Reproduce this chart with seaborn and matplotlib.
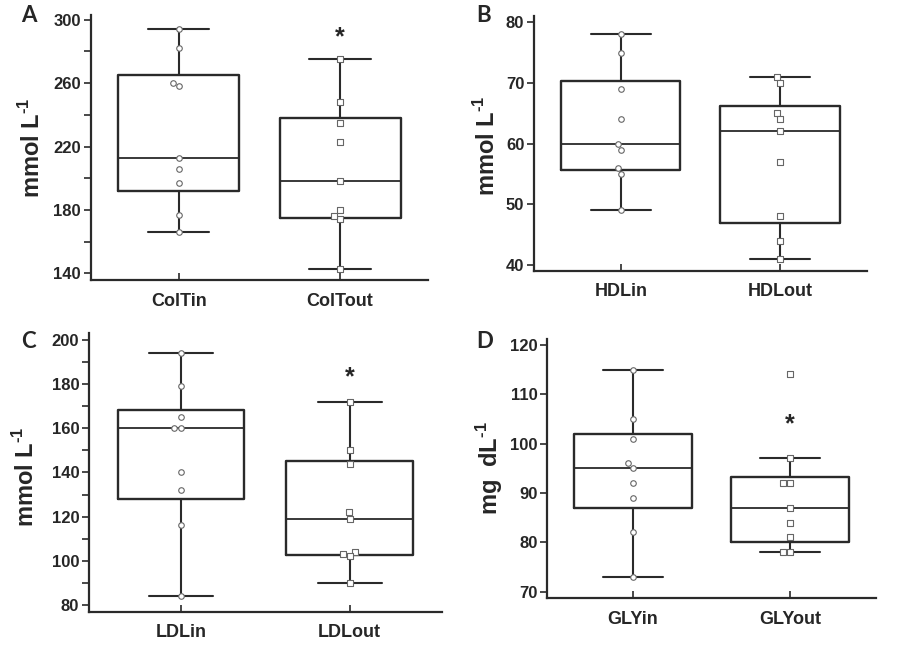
import matplotlib
matplotlib.use("Agg")
import matplotlib.pyplot as plt
import seaborn as sns
import pandas as pd

# ---- data ----
colt_labels = ["ColTin", "ColTout"]
colt_in = [294, 282, 260, 258, 213, 206, 197, 177, 166]
colt_out = [275, 248, 235, 223, 198, 180, 174, 176, 143]
colt_q1 = [192, 175]
colt_med = [213, 198]
colt_q3 = [265, 238]
colt_lo = [166, 143]
colt_hi = [294, 275]
colt_ticks = [140, 180, 220, 260, 300]

hdl_labels = ["HDLin", "HDLout"]
hdl_in = [78, 75, 69, 64, 60, 59, 56, 55, 49]
hdl_out = [71, 70, 65, 64, 62, 57, 48, 44, 41]
hdl_q1 = [55.7, 47]
hdl_med = [60, 62]
hdl_q3 = [70.4, 66.2]
hdl_lo = [49, 41]
hdl_hi = [78, 71]
hdl_ticks = [40, 50, 60, 70, 80]

ldl_labels = ["LDLin", "LDLout"]
ldl_in = [194, 179, 165, 160, 160, 140, 132, 116, 84]
ldl_out = [172, 150, 144, 122, 119, 104, 103, 102, 90]
ldl_q1 = [127.8, 102.5]
ldl_med = [160, 119]
ldl_q3 = [168.3, 145.4]
ldl_lo = [84, 90]
ldl_hi = [194, 172]
ldl_ticks = [80, 100, 120, 140, 160, 180, 200]

gly_labels = ["GLYin", "GLYout"]
gly_in = [115, 105, 101, 96, 95, 92, 89, 82, 73]
gly_out = [114, 97, 92, 92, 87, 84, 81, 78, 78]
gly_q1 = [87, 80.1]
gly_med = [95, 87]
gly_q3 = [102, 93.2]
gly_lo = [73, 78]
gly_hi = [115, 97]
gly_ticks = [70, 80, 90, 100, 110, 120]

sns.set_style("ticks")
plt.rcParams["font.family"] = ["Liberation Sans", "DejaVu Sans"]
plt.rcParams["font.weight"] = "bold"
plt.rcParams["mathtext.fontset"] = "custom"
plt.rcParams["mathtext.rm"] = "Liberation Sans:bold"
plt.rcParams["mathtext.bf"] = "Liberation Sans:bold"

LINE = "#2a2a2a"


def draw_panel(ax, labels, v_in, v_out, q1, med, q3, lo, hi, ticks, minor=False, star=None):
    df_in = pd.DataFrame({"group": labels[0], "value": v_in})
    df_out = pd.DataFrame({"group": labels[1], "value": v_out})
    kw = dict(x="group", y="value", order=labels, ax=ax, size=4.0, color="white",
              edgecolor="#666666", linewidth=0.8, zorder=4)
    sns.swarmplot(data=df_in, marker="o", **kw)
    sns.swarmplot(data=df_out, marker="s", **kw)

    stats = [dict(q1=q1[i], med=med[i], q3=q3[i], whislo=lo[i], whishi=hi[i], fliers=[])
             for i in range(2)]
    ax.bxp(stats, positions=[0, 1], widths=0.75, capwidths=0.38, showfliers=False,
           manage_ticks=False,
           boxprops=dict(color=LINE, linewidth=1.7),
           whiskerprops=dict(color=LINE, linewidth=1.5),
           capprops=dict(color=LINE, linewidth=1.5),
           medianprops=dict(color=LINE, linewidth=1.3))

    step = ticks[1] - ticks[0]
    pad = step * len(ticks) / 40.0
    ax.set_xlim(-0.545, 1.545)
    ax.set_xticks([0, 1])
    ax.set_xticklabels(labels)
    ax.set_yticks(ticks)
    if minor:
        ax.set_yticks([t + step / 2 for t in ticks[:-1]], minor=True)
    ax.set_xlabel("")
    ax.set_ylabel("")
    ax.tick_params(axis="x", labelsize=13, direction="in", length=5, width=1.2,
                   color=LINE, pad=9)
    ax.tick_params(axis="y", which="both", labelsize=12, direction="out", length=5,
                   width=1.2, color=LINE, pad=2)
    sns.despine(ax=ax)
    for s in ["left", "bottom"]:
        ax.spines[s].set_linewidth(1.6)
        ax.spines[s].set_color(LINE)
    if star is not None:
        ax.text(1, star, "*", ha="center", va="center", fontsize=18, fontweight="bold")


fig = plt.figure(figsize=(8.99, 6.57), dpi=100)
ax_a = fig.add_axes([0.1009, 0.5738, 0.3752, 0.4034])
ax_b = fig.add_axes([0.594, 0.588, 0.3701, 0.3877])
ax_c = fig.add_axes([0.099, 0.0689, 0.3923, 0.4238])
ax_d = fig.add_axes([0.6088, 0.0894, 0.3653, 0.3947])

draw_panel(ax_a, colt_labels, colt_in, colt_out, colt_q1, colt_med, colt_q3, colt_lo, colt_hi,
           colt_ticks, minor=True, star=289)
ax_a.set_ylim(135.8, 303)
draw_panel(ax_b, hdl_labels, hdl_in, hdl_out, hdl_q1, hdl_med, hdl_q3, hdl_lo, hdl_hi,
           hdl_ticks)
ax_b.set_ylim(39.06, 81.04)
draw_panel(ax_c, ldl_labels, ldl_in, ldl_out, ldl_q1, ldl_med, ldl_q3, ldl_lo, ldl_hi,
           ldl_ticks, minor=True, star=183)
ax_c.set_ylim(76.96, 203)
draw_panel(ax_d, gly_labels, gly_in, gly_out, gly_q1, gly_med, gly_q3, gly_lo, gly_hi,
           gly_ticks, star=104)
ax_d.set_ylim(68.66, 121.2)

W, H = 899, 657
ylabels = [(r"mmol L$^{\text{-1}}$", 32, 148), (r"mmol L$^{\text{-1}}$", 487, 146),
           (r"mmol L$^{\text{-1}}$", 26, 477), (r"mg  dL$^{\text{-1}}$", 490, 468)]
for txt, x, y in ylabels:
    fig.text(x / W, 1 - y / H, txt, rotation=90, ha="center", va="center",
             fontsize=17, fontweight="bold")

letters = [("A", 29, 16), ("B", 484, 15), ("C", 28, 342), ("D", 485, 342)]
for txt, x, y in letters:
    fig.text(x / W, 1 - y / H, txt, ha="center", va="center", fontsize=16,
             fontweight="bold", family=["Lato", "DejaVu Sans"])

fig.savefig("out.png", dpi=100)
